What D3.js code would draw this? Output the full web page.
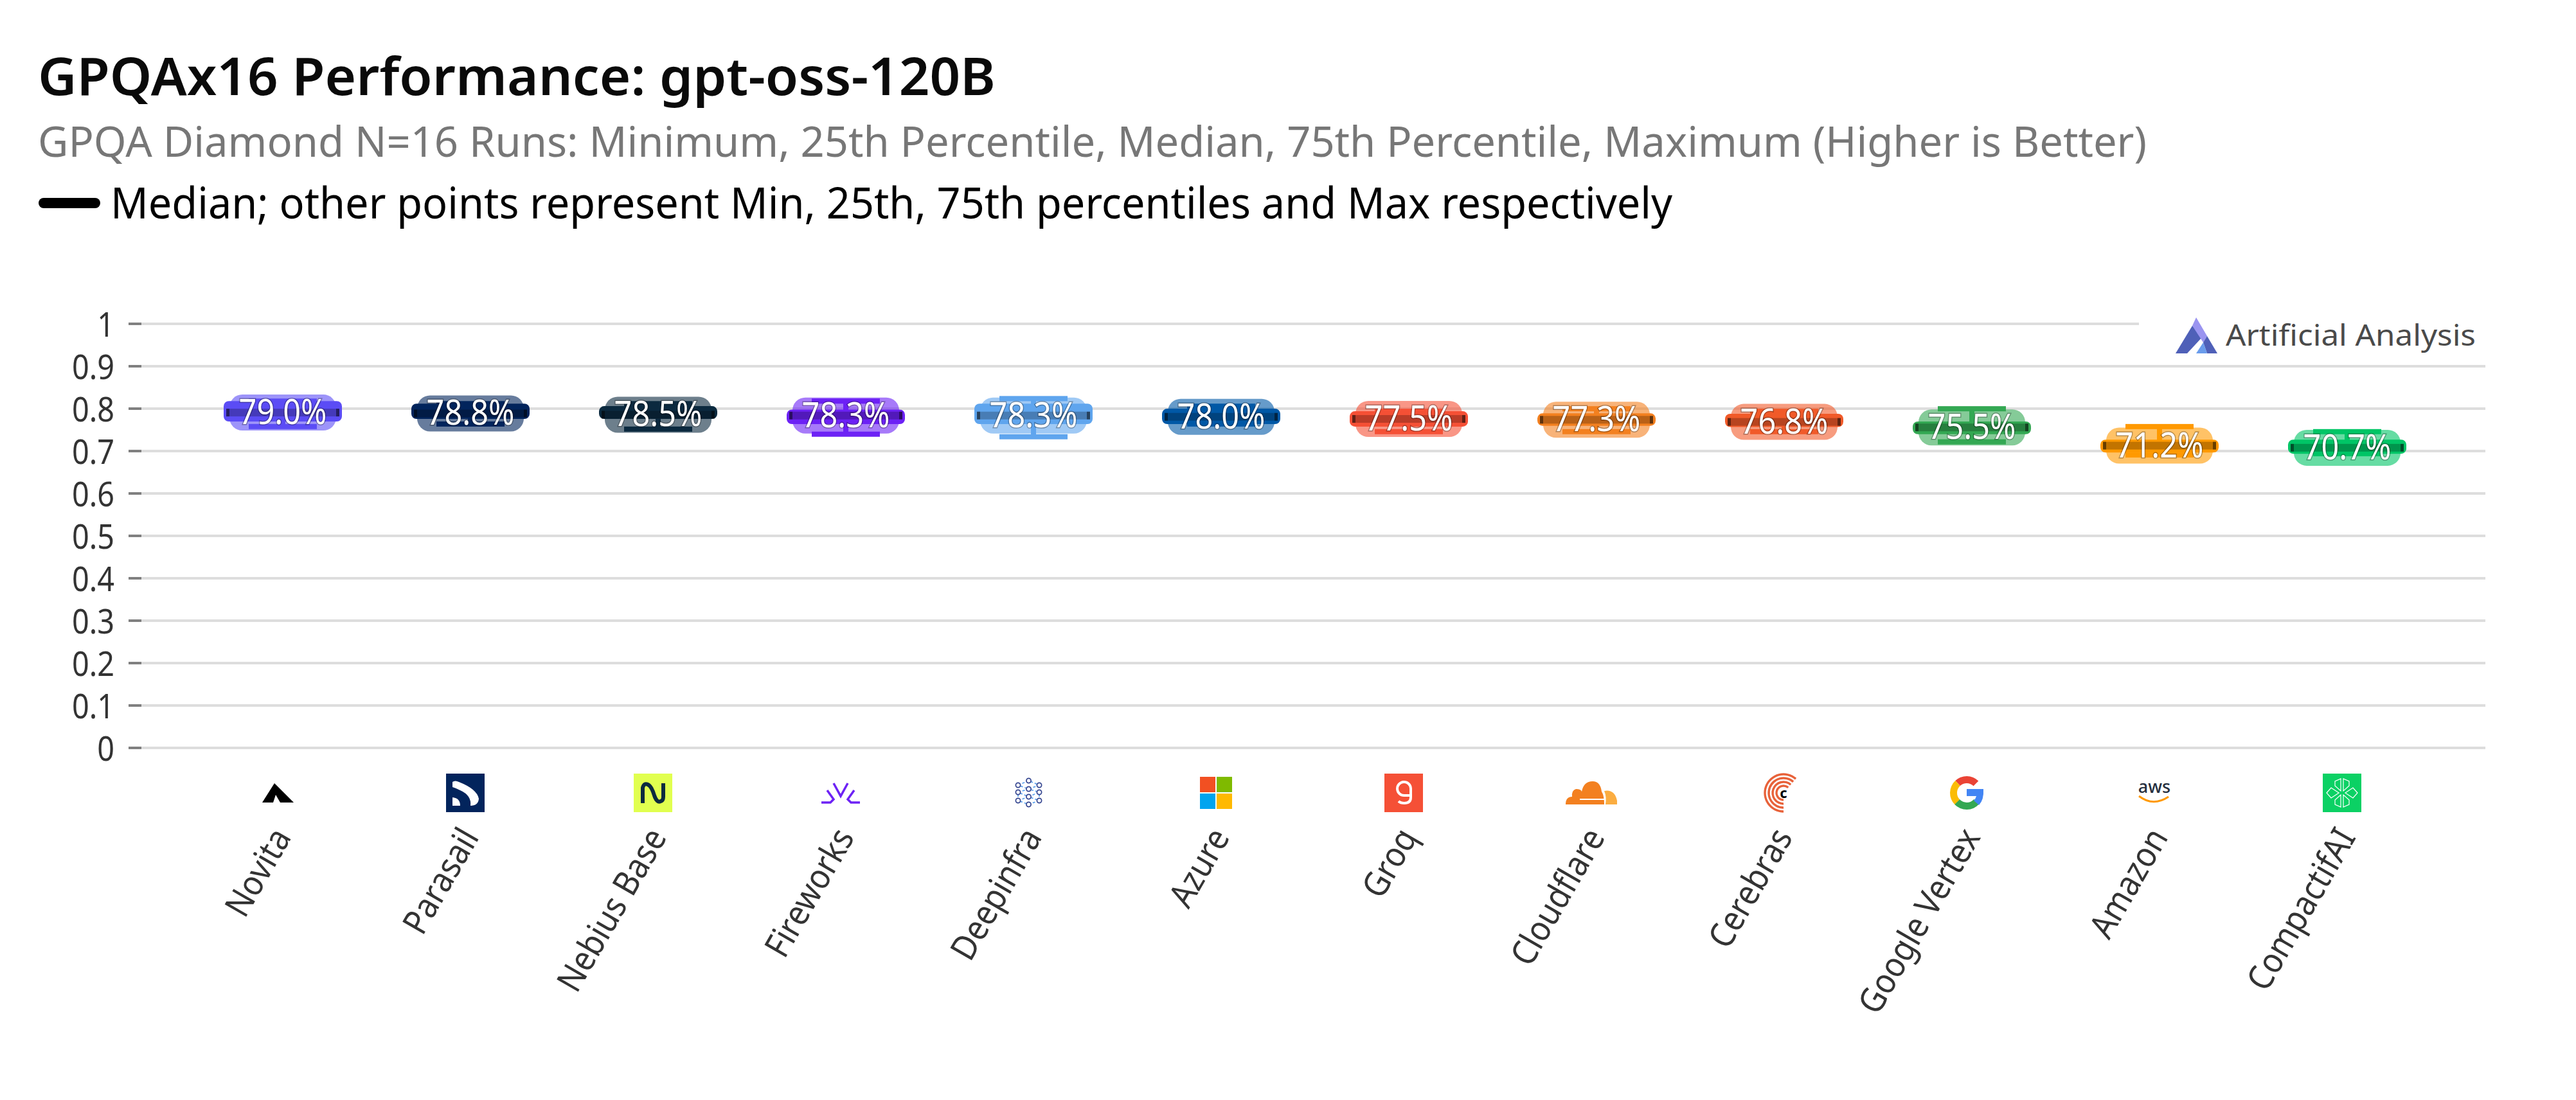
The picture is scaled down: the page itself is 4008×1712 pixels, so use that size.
<!DOCTYPE html>
<html>
<head>
<meta charset="utf-8">
<script src="https://cdn.jsdelivr.net/npm/d3@7"></script>
<style>
  html, body { margin: 0; background: #fff; }
  svg { display: block; font-family: "Noto Sans", sans-serif; }
</style>
</head>
<body>
<svg id="chart" width="4008" height="1712"></svg>
<script>
// Providers in ranking order with their GPQA Diamond run statistics
const providers = ["Novita", "Parasail", "Nebius Base", "Fireworks", "Deepinfra", "Azure", "Groq", "Cloudflare", "Cerebras", "Google Vertex", "Amazon", "CompactifAI"];
const minimum = [0.757, 0.763, 0.751, 0.739, 0.733, 0.763, 0.745, 0.745, 0.745, 0.721, 0.690, 0.693];
const q25 = [0.781, 0.787, 0.787, 0.775, 0.775, 0.775, 0.769, 0.771, 0.768, 0.751, 0.708, 0.705];
const median = [0.790, 0.788, 0.785, 0.783, 0.783, 0.780, 0.775, 0.773, 0.768, 0.755, 0.712, 0.707];
const q75 = [0.805, 0.799, 0.793, 0.785, 0.799, 0.787, 0.781, 0.776, 0.775, 0.757, 0.714, 0.714];
const maximum = [0.817, 0.811, 0.811, 0.817, 0.823, 0.805, 0.793, 0.799, 0.793, 0.799, 0.757, 0.745];
const colors = ["#5b4cf5", "#02245c", "#0b2a3f", "#6d22f5", "#5fa5ee", "#0058a6", "#f55036", "#f38020", "#f15a29", "#34a853", "#ff9900", "#00c566"];
const yTicks = [0, 0.1, 0.2, 0.3, 0.4, 0.5, 0.6, 0.7, 0.8, 0.9, 1];

const svg = d3.select("#chart");

// Squeeze text horizontally so the wide face keeps a narrow set width
function condense(selection, factor) {
  selection.each(function () {
    const len = this.getComputedTextLength();
    d3.select(this).attr("textLength", len * factor).attr("lengthAdjust", "spacingAndGlyphs");
  });
}

// Heading block
svg.append("text").attr("x", 59).attr("y", 148).attr("font-size", 81).attr("font-weight", 600).attr("fill", "#0a0a0a")
  .text("GPQAx16 Performance: gpt-oss-120B").attr("textLength", 1490).attr("lengthAdjust", "spacingAndGlyphs");
svg.append("text").attr("x", 59).attr("y", 244).attr("font-size", 66).attr("fill", "#777")
  .text("GPQA Diamond N=16 Runs: Minimum, 25th Percentile, Median, 75th Percentile, Maximum (Higher is Better)").attr("textLength", 3281).attr("lengthAdjust", "spacingAndGlyphs");
svg.append("rect").attr("x", 60).attr("y", 308).attr("width", 96).attr("height", 16).attr("rx", 8).attr("fill", "#000");
svg.append("text").attr("x", 172).attr("y", 340).attr("font-size", 67).attr("fill", "#000")
  .text("Median; other points represent Min, 25th, 75th percentiles and Max respectively").attr("textLength", 2430).attr("lengthAdjust", "spacingAndGlyphs");

// Scales
const x = d3.scalePoint().domain(providers).range([440, 3652]);
const y = d3.scaleLinear().domain([0, 1]).range([1163.5, 503.5]);
const plotLeft = 220, plotRight = 3867;

// Value axis: short grey ticks, with a pale gridline continuing across the plot
const yAxis = svg.append("g").attr("transform", `translate(${plotLeft},0)`)
  .call(d3.axisLeft(y).tickValues(yTicks).tickSize(20).tickPadding(22).tickFormat(d3.format("~g")));
yAxis.select(".domain").remove();
yAxis.selectAll("line").attr("stroke", "#808080").attr("stroke-width", 4);
yAxis.selectAll(".tick").append("line").attr("x1", 0).attr("x2", plotRight - plotLeft).attr("stroke", "#ddd").attr("stroke-width", 4);
yAxis.selectAll("text").attr("font-size", 52).attr("fill", "#333").attr("font-family", '"Noto Sans", sans-serif')
  .attr("dy", "0.39em").call(condense, 0.9);

// Category axis: rotated provider names below a row of logos
const xAxis = svg.append("g").attr("transform", "translate(0,1303)")
  .call(d3.axisBottom(x).tickSize(0).tickPadding(0));
xAxis.select(".domain").remove();
xAxis.selectAll("text")
  .attr("font-size", 54).attr("fill", "#333").attr("font-family", '"Noto Sans", sans-serif')
  .attr("text-anchor", "end").attr("dy", 0).attr("y", 0).attr("x", 0)
  .attr("transform", "translate(14,0) rotate(-60)")
  .call(condense, 0.9);

// Distribution glyph per provider
const boxes = svg.append("g").selectAll("g").data(providers).join("g")
  .attr("transform", d => `translate(${x(d)},0)`);

const capWidth = 106, capHeight = 8, barWidth = 184, barPad = 8, stemWidth = 8, pillWidth = 166, pillHeight = 56;

// stem from minimum to maximum
boxes.append("rect").attr("x", -stemWidth / 2).attr("width", stemWidth)
  .attr("y", (d, i) => y(maximum[i])).attr("height", (d, i) => y(minimum[i]) - y(maximum[i]))
  .attr("fill", (d, i) => colors[i]);
// minimum and maximum caps
[minimum, maximum].forEach(series => {
  boxes.append("rect").attr("x", -capWidth / 2).attr("width", capWidth).attr("height", capHeight)
    .attr("y", (d, i) => y(series[i]) - capHeight / 2)
    .attr("fill", (d, i) => colors[i]);
});
// inter-quartile bar
boxes.append("rect").attr("x", -barWidth / 2).attr("width", barWidth).attr("rx", 8)
  .attr("y", (d, i) => y(q75[i]) - barPad)
  .attr("height", (d, i) => y(q25[i]) - y(q75[i]) + 2 * barPad)
  .attr("fill", (d, i) => colors[i]);
// median band
boxes.append("rect").attr("x", -88).attr("width", 176).attr("height", 12)
  .attr("y", (d, i) => y(median[i]) - 6)
  .attr("fill", "#000").attr("fill-opacity", 0.6);
// translucent label pill over the glyph
boxes.append("rect").attr("x", -pillWidth / 2).attr("width", pillWidth).attr("height", pillHeight).attr("rx", 20)
  .attr("y", (d, i) => y(median[i]) - pillHeight / 2)
  .attr("fill", (d, i) => colors[i]).attr("fill-opacity", 0.6);
// median value label
boxes.append("text").attr("text-anchor", "middle")
  .attr("y", (d, i) => y(median[i]) + 18)
  .attr("font-size", 54).attr("fill", "#fff")
  .attr("stroke", "#000").attr("stroke-opacity", 0.3).attr("stroke-width", 3).attr("paint-order", "stroke")
  .text((d, i) => d3.format(".1%")(median[i]))
  .call(condense, 0.9);

// Provider logos, each drawn in a 60x60 box
const logos = {
  "Novita": g => {
    g.append("path").attr("d", "M25 15 L55 45 L34 45 L27 33 L23 45 L6 45 Z").attr("fill", "#000");
  },
  "Parasail": g => {
    g.append("rect").attr("width", 60).attr("height", 60).attr("fill", "#02245c");
    g.append("path").attr("d", "M10 13 Q14 10 20 13 Q48 24 51 39 Q50 50 38 50 Q40 34 22 26 Q14 22 10 21 Z M10 37 Q22 38 22 50 L10 50 Z").attr("fill", "#fff");
  },
  "Nebius Base": g => {
    g.append("rect").attr("width", 60).attr("height", 60).attr("fill", "#e1ff4f");
    g.append("path").attr("d", "M14 46 V22 Q16 14 22 17 Q28 20 32 34 Q36 46 42 43 Q46 42 46 36 V15").attr("fill", "none").attr("stroke", "#0b2a3f").attr("stroke-width", 6);
  },
  "Fireworks": g => {
    g.append("path").attr("d", "M19 15 L30 35 L41 15 M9 26 L19 40 L14 45 H0 M51 26 L41 40 L46 45 H60")
      .attr("fill", "none").attr("stroke", "#6d22f5").attr("stroke-width", 3.5);
  },
  "Deepinfra": g => {
    const left = [18, 29, 42], mid = [11, 24, 36, 48];
    const pts = [...left.map(v => [14, v]), ...mid.map(v => [30.5, v]), ...left.map(v => [47, v])];
    g.append("path").attr("d", "M14 18 L30.5 11 L47 18 L30.5 24 Z M14 29 L30.5 24 L47 29 L30.5 36 Z M14 42 L30.5 36 L47 42 L30.5 48 Z M14 18 V42 M47 18 V42")
      .attr("fill", "none").attr("stroke", "#5fa5ee").attr("stroke-width", 1.8).attr("stroke-dasharray", "4 3");
    g.selectAll("circle").data(pts).join("circle").attr("cx", p => p[0]).attr("cy", p => p[1]).attr("r", 3.6)
      .attr("fill", "#fff").attr("stroke", "#33448f").attr("stroke-width", 1.7);
  },
  "Azure": g => {
    [[5, 5, "#f25022"], [31, 5, "#7fba00"], [5, 31, "#00a4ef"], [31, 31, "#ffb900"]].forEach(c =>
      g.append("rect").attr("x", c[0]).attr("y", c[1]).attr("width", 24).attr("height", 24).attr("fill", c[2]));
  },
  "Groq": g => {
    g.append("rect").attr("width", 60).attr("height", 60).attr("fill", "#f55036");
    g.append("path").attr("d", "M41 34 H31 A10.5 10.5 0 1 1 41 23 V37 Q41 46 31 46 Q25 46 22 43").attr("fill", "none").attr("stroke", "#fff").attr("stroke-width", 4);
  },
  "Cloudflare": g => {
    g.append("path").attr("d", "M-10 48 Q-10 36 0 36 Q-1 26 6 24 Q14 24 15 28 Q18 12 32 12 Q44 12 46 28 Q50 34 50 48 Z").attr("fill", "#f38020");
    g.append("path").attr("d", "M52 48 Q54 36 50 27 Q66 24 70 42 V48 Z").attr("fill", "#fbad41");
    g.append("path").attr("d", "M12 40 H52").attr("stroke", "#fff").attr("stroke-width", 2);
  },
  "Cerebras": g => {
    const ring = d3.arc().startAngle(3.14).endAngle(7.0).cornerRadius(0);
    [29, 23, 17, 11].forEach((r, i) => g.append("path").attr("transform", "translate(37,30)")
      .attr("d", ring({ innerRadius: r - 1.7, outerRadius: r + 1.7, endAngle: 7.0 - i * 0.1 })).attr("fill", "#e8623a"));
    g.append("text").attr("x", 37).attr("y", 38).attr("text-anchor", "middle").attr("font-size", 22).attr("font-weight", 700).attr("fill", "#000").text("c");
  },
  "Google Vertex": g => {
    const arc = d3.arc().innerRadius(15).outerRadius(26);
    g.append("path").attr("transform", "translate(30,30)").attr("d", arc({ startAngle: -0.75, endAngle: 0.78 })).attr("fill", "#ea4335");
    g.append("path").attr("transform", "translate(30,30)").attr("d", arc({ startAngle: -2.35, endAngle: -0.75 })).attr("fill", "#fbbc05");
    g.append("path").attr("transform", "translate(30,30)").attr("d", arc({ startAngle: 2.3, endAngle: 3.95 })).attr("fill", "#34a853");
    g.append("path").attr("d", "M30 24 H56 Q57 41 49 49 L41 42 Q44 39 45 35 H30 Z").attr("fill", "#4285f4");
  },
  "Amazon": g => {
    g.append("text").attr("x", 30).attr("y", 30).attr("text-anchor", "middle").attr("font-size", 27).attr("font-weight", 500).attr("fill", "#252f3e").text("aws");
    g.append("path").attr("d", "M6 35 Q28 52 52 36").attr("fill", "none").attr("stroke", "#ff9900").attr("stroke-width", 3);
  },
  "CompactifAI": g => {
    g.append("rect").attr("width", 60).attr("height", 60).attr("fill", "#0bd164");
    g.append("path").attr("d", "M28 8 V27 L19 19 V12 Z M32 8 V27 L41 19 V12 Z M28 52 V33 L19 41 V48 Z M32 52 V33 L41 41 V48 Z M6 30 L13 22 L25 30 L13 38 Z M54 30 L47 22 L35 30 L47 38 Z")
      .attr("fill", "none").attr("stroke", "#fff").attr("stroke-width", 1.2);
  }
};
svg.append("g").selectAll("g").data(providers).join("g")
  .attr("transform", d => `translate(${x(d) - 38},1204)`)
  .each(function (d) { logos[d](d3.select(this)); });

// Attribution mark in the upper right, masking the end of the top gridline
const mark = svg.append("g");
mark.append("rect").attr("x", 3328).attr("y", 490).attr("width", 540).attr("height", 30).attr("fill", "#fff");
mark.append("path").attr("d", "M3411 507 L3385 550 L3403 550 L3428 523 Z").attr("fill", "#4f60b8");
mark.append("path").attr("d", "M3417 494 L3411 507 L3428 533 L3434 523 Z").attr("fill", "#9a94f0");
mark.append("path").attr("d", "M3428 533 L3434 550 L3450 550 L3434 523 Z").attr("fill", "#4f60b8");
mark.append("path").attr("d", "M3428 533 L3417 550 L3434 550 Z").attr("fill", "#6a9cec");
mark.append("text").attr("x", 3463).attr("y", 538).attr("font-size", 46).attr("fill", "#4a4a4a")
  .text("Artificial Analysis").attr("textLength", 389).attr("lengthAdjust", "spacingAndGlyphs");
</script>
</body>
</html>
